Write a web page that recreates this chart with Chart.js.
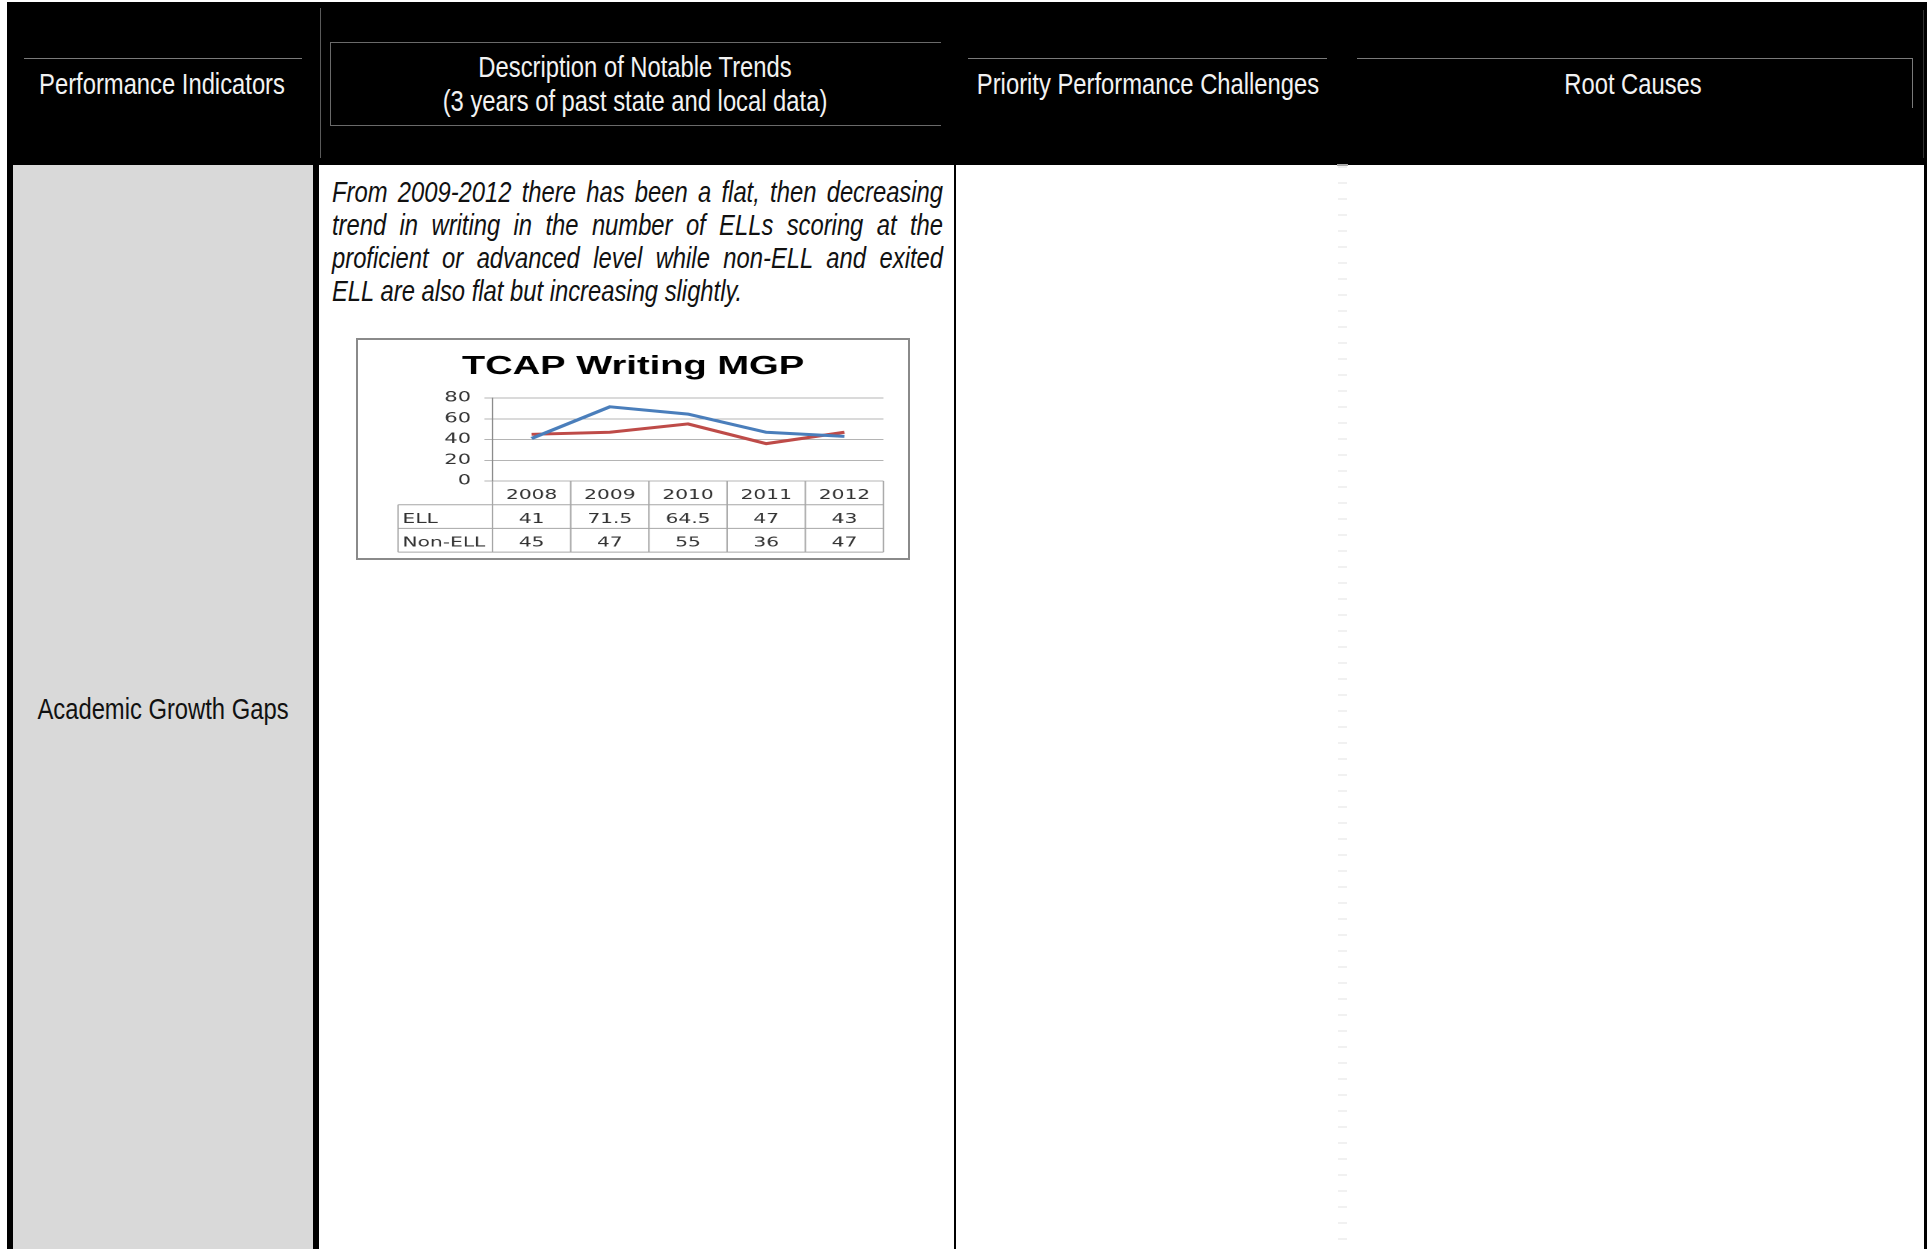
<!DOCTYPE html>
<html>
<head>
<meta charset="utf-8">
<script src="https://cdn.jsdelivr.net/npm/chart.js@4/dist/chart.umd.min.js"></script>
<style>
  html,body{margin:0;padding:0;}
  body{width:1927px;height:1249px;position:relative;background:#fff;overflow:hidden;}
  .abs{position:absolute;}
  .nt{font-family:"Liberation Sans Narrow","Arial Narrow",sans-serif;font-size:29px;white-space:nowrap;}
  .ht{color:#f2f2f2;text-align:center;width:700px;height:34px;line-height:34px;transform-origin:50% 50%;}
  .gl{background:#7a7a7a;}
</style>
</head>
<body>
<!-- header band -->
<div class="abs" style="left:7px;top:2px;width:1920px;height:163px;background:#000;"></div>
<div class="abs gl" style="left:24px;top:58px;width:278px;height:1px;"></div>
<div class="abs" style="left:320px;top:8px;width:1px;height:150px;background:#5a5a5a;"></div>
<div class="abs" style="left:330px;top:42px;width:610px;height:82px;border:1px solid #6a6a6a;border-right:none;"></div>
<div class="abs gl" style="left:968px;top:58px;width:359px;height:1px;"></div>
<div class="abs gl" style="left:1357px;top:58px;width:555px;height:1px;"></div>
<div class="abs gl" style="left:1912px;top:58px;width:1px;height:50px;"></div>
<div class="abs" style="left:1923px;top:10px;width:1px;height:148px;background:#333;"></div>

<div class="abs nt ht" style="left:-188px;top:67px;">Performance Indicators</div>
<div class="abs nt ht" style="left:285px;top:50px;">Description of Notable Trends</div>
<div class="abs nt ht" style="left:285px;top:84px;">(3 years of past state and local data)</div>
<div class="abs nt ht" style="left:798px;top:67px;">Priority Performance Challenges</div>
<div class="abs nt ht" style="left:1283px;top:67px;">Root Causes</div>

<!-- body -->
<div class="abs" style="left:7px;top:165px;width:6px;height:1084px;background:#000;"></div>
<div class="abs" style="left:13px;top:165px;width:300px;height:1084px;background:#d9d9d9;"></div>
<div class="abs" style="left:313px;top:165px;width:6px;height:1084px;background:#000;"></div>
<div class="abs" style="left:954px;top:165px;width:2px;height:1084px;background:#000;"></div>
<div class="abs" style="left:1338px;top:166px;width:9px;height:1083px;background:repeating-linear-gradient(to bottom,#f1f1f1 0px,#f1f1f1 2px,transparent 2px,transparent 16px);"></div>
<div class="abs" style="left:1337px;top:164px;width:11px;height:2px;background:#a8a8a8;"></div>
<div class="abs" style="left:1924px;top:165px;width:3px;height:1084px;background:#000;"></div>

<div class="abs nt ht" style="left:-187px;top:692px;color:#111;">Academic Growth Gaps</div>

<div id="para" class="abs nt" style="left:332px;top:176px;width:611px;font-style:italic;line-height:33px;text-align:justify;white-space:normal;color:#111;transform-origin:0 0;">From 2009-2012 there has been a flat, then decreasing trend in writing in the number of ELLs scoring at the proficient or advanced level while non-ELL and exited ELL are also flat but increasing slightly.</div>

<!-- chart box -->
<div class="abs" style="left:356px;top:338px;width:554px;height:222px;border:2px solid #8a8a8a;box-sizing:border-box;background:#fff;overflow:hidden;">
  <div id="wrap" style="position:absolute;left:0;top:0;width:368px;height:218px;transform:scaleX(1.4946);transform-origin:0 0;">
    <canvas id="c"></canvas>
  </div>
</div>

<script>
// ---- data ----
const categories = ['2008', '2009', '2010', '2011', '2012'];
const ellValues = [41, 71.5, 64.5, 47, 43];
const nonEllValues = [45, 47, 55, 36, 47];
const seriesNames = ['ELL', 'Non-ELL'];
const yTickValues = [0, 20, 40, 60, 80];
const chartTitle = 'TCAP Writing MGP';

// ---- font fallback for narrow header/body text ----
(function(){
  const c = document.createElement('canvas').getContext('2d');
  const s = 'Performance Indicators';
  c.font = '40px monospace'; const a = c.measureText(s).width;
  c.font = '40px "Liberation Sans Narrow", monospace'; const b = c.measureText(s).width;
  if (a === b) {
    document.querySelectorAll('.nt').forEach(el => {
      el.style.fontFamily = '"Liberation Sans", Arial, sans-serif';
      if (el.id === 'para') {
        el.style.width = (611 / 0.82) + 'px';
      }
      el.style.transform = 'scaleX(0.82)';
    });
  }
})();

// ---- data table under the plot, drawn through the x scale ----
const dataTable = {
  id: 'dataTable',
  afterDraw(chart) {
    const {ctx, chartArea: a, scales: {x}} = chart;
    const rowH = 23.7;
    const labelLeft = 26.8;
    const top = a.bottom;
    const bottom = top + 3 * rowH;
    const n = categories.length;
    const edges = [a.left];
    for (let i = 1; i < n; i++) edges.push((x.getPixelForValue(i - 1) + x.getPixelForValue(i)) / 2);
    edges.push(a.right);
    ctx.save();
    ctx.strokeStyle = '#a6a6a6';
    ctx.lineWidth = 1;
    ctx.beginPath();
    for (let r = 1; r <= 3; r++) {
      const y = top + r * rowH;
      ctx.moveTo(labelLeft, y); ctx.lineTo(a.right, y);
    }
    edges.forEach(e => { ctx.moveTo(e, top); ctx.lineTo(e, bottom); });
    ctx.moveTo(labelLeft, top + rowH); ctx.lineTo(labelLeft, bottom);
    ctx.stroke();
    ctx.fillStyle = '#333';
    ctx.font = '13.5px "DejaVu Sans", sans-serif';
    ctx.textBaseline = 'middle';
    ctx.textAlign = 'center';
    const rows = [categories, ellValues, nonEllValues];
    rows.forEach((vals, r) => {
      const yc = top + r * rowH + rowH / 2 + 2.8;
      vals.forEach((v, i) => ctx.fillText(String(v), x.getPixelForValue(i), yc));
    });
    ctx.textAlign = 'left';
    seriesNames.forEach((nm, r) => ctx.fillText(nm, labelLeft + 3, top + (r + 1) * rowH + rowH / 2 + 2.8));
    ctx.restore();
  }
};

new Chart(document.getElementById('c'), {
  type: 'line',
  data: {
    labels: categories,
    datasets: [
      {label: seriesNames[0], data: ellValues, borderColor: '#4a7ebb', backgroundColor: '#4a7ebb', borderWidth: 3, pointRadius: 0, tension: 0, fill: false},
      {label: seriesNames[1], data: nonEllValues, borderColor: '#be4b48', backgroundColor: '#be4b48', borderWidth: 3, pointRadius: 0, tension: 0, fill: false}
    ]
  },
  options: {
    responsive: true,
    maintainAspectRatio: false,
    animation: false,
    devicePixelRatio: 2,
    layout: {autoPadding: false, padding: {top: 0, bottom: 77, left: 16.4, right: 16.4}},
    plugins: {
      legend: {display: false},
      tooltip: {enabled: false},
      title: {display: true, text: chartTitle, color: '#000',
        font: {family: '"Liberation Sans", Arial, sans-serif', size: 25.5, weight: 'bold', lineHeight: 1.2},
        padding: {top: 11.5, bottom: 15.9}}
    },
    scales: {
      x: {type: 'category', display: false, offset: true},
      y: {
        min: 0, max: 80,
        afterBuildTicks: s => { s.ticks = yTickValues.map(v => ({value: v})); },
        afterFit: s => { s.width = 73.6; },
        grid: {color: '#b4b4b4', tickLength: 5.4, lineWidth: 1},
        border: {display: true, color: '#8c8c8c', width: 1},
        ticks: {padding: 9, color: '#333', font: {family: '"DejaVu Sans", sans-serif', size: 14}}
      }
    }
  },
  plugins: [dataTable]
});
</script>
</body>
</html>
